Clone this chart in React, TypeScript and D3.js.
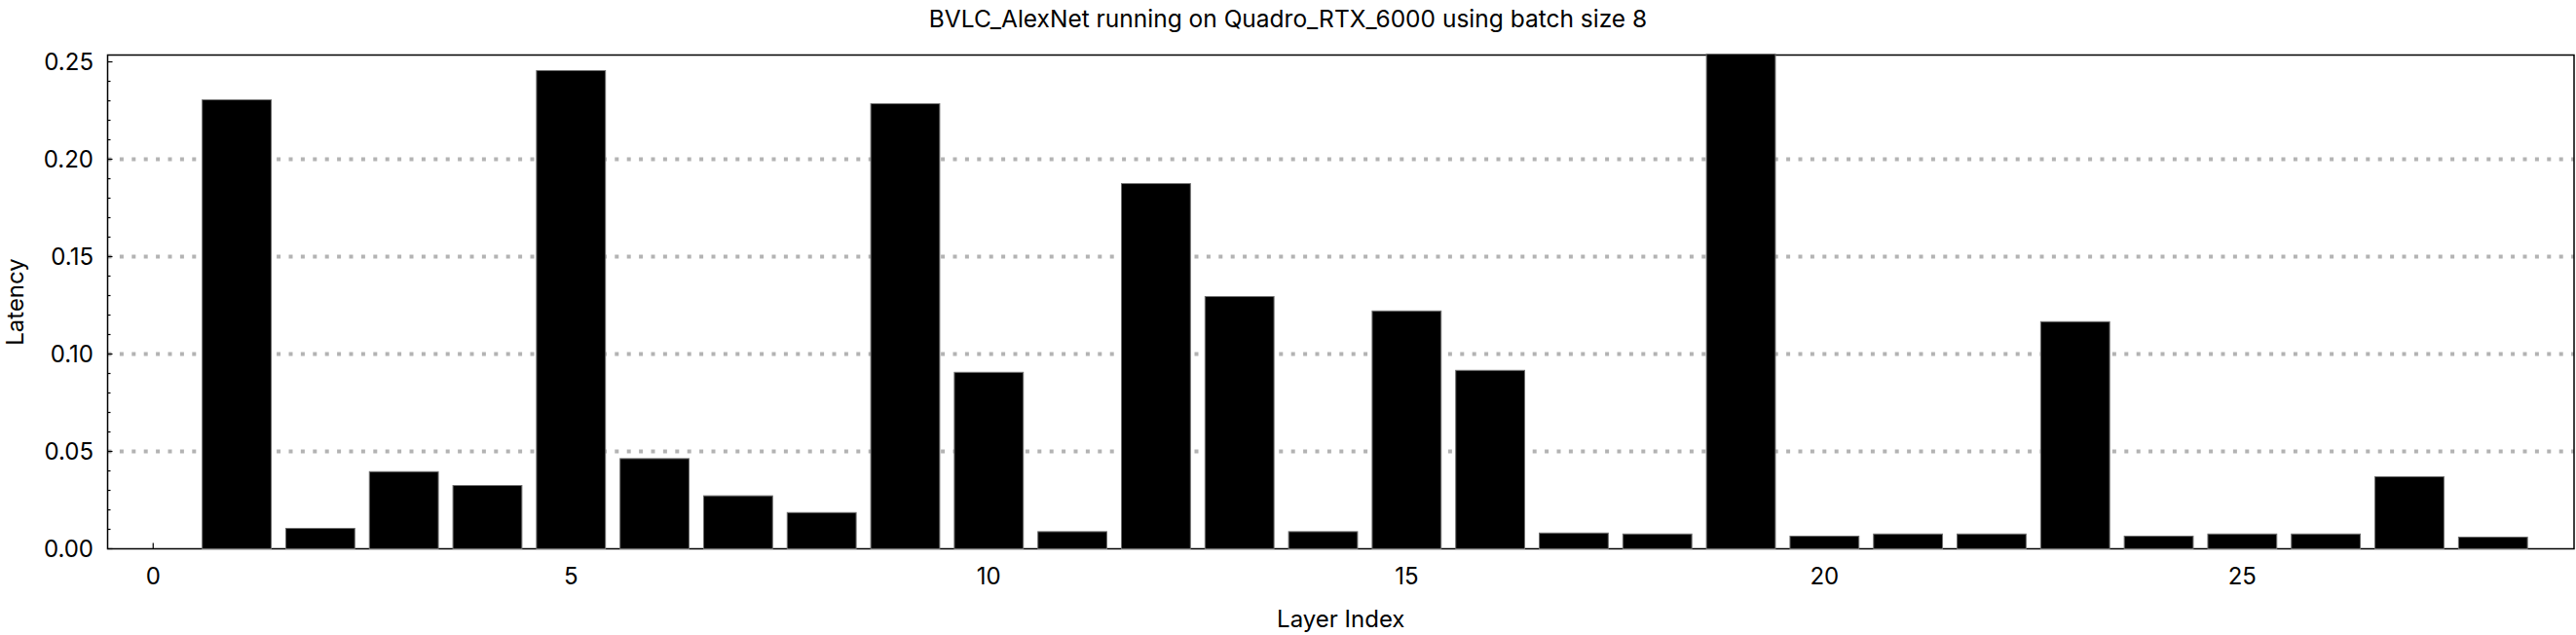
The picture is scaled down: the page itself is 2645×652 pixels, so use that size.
import React from 'react';
import * as d3 from 'd3';

const TITLE = 'BVLC_AlexNet running on Quadro_RTX_6000 using batch size 8';
const X_LABEL = 'Layer Index';
const Y_LABEL = 'Latency';

const layerIndex = [1, 2, 3, 4, 5, 6, 7, 8, 9, 10, 11, 12, 13, 14, 15, 16, 17, 18, 19, 20, 21, 22, 23, 24, 25, 26, 27, 28];
const latency = [
  0.2305, 0.0105, 0.0396, 0.0325, 0.2455, 0.0463, 0.0272, 0.0186, 0.2285, 0.0906,
  0.0088, 0.1875, 0.1295, 0.0088, 0.1221, 0.0916, 0.0081, 0.0076, 0.254, 0.0065,
  0.0076, 0.0076, 0.1166, 0.0065, 0.0076, 0.0076, 0.037, 0.006,
];
const xTicks = [0, 5, 10, 15, 20, 25];
const yTicks = [0, 0.05, 0.1, 0.15, 0.2, 0.25];
const gridValues = [0.05, 0.1, 0.15, 0.2];

const W = 2645;
const H = 652;
const FONT = 'Inter, "Noto Sans", sans-serif';

export default function App() {
  const left = 110.5, right = 2643, top = 56.5, bottom = 563.5;
  const x = d3.scaleLinear().domain([-0.545, 28.97]).range([left, right]);
  const y = d3.scaleLinear().domain([0, 0.2535]).range([bottom, top]);
  const barW = x(0.825) - x(0);
  const minor = d3.range(0, 26).map((i) => i / 100).filter((v) => Math.round(v * 100) % 5 !== 0);
  const data = layerIndex.map((k, i) => ({ k, v: latency[i] }));

  return (
    <svg width={W} height={H} style={{ position: 'absolute', left: 0, top: 0, background: '#fff' }} fontFamily={FONT}>
      <rect x={0} y={0} width={W} height={H} fill="#fff" />
      <text x={W / 2} y={28} textAnchor="middle" fontSize={24.5} fill="#000">{TITLE}</text>
      {gridValues.map((g) => (
        <line key={'g' + g} x1={left} x2={right} y1={y(g)} y2={y(g)} stroke="#b3b3b3" strokeWidth={4} strokeDasharray="4,8.4" />
      ))}
      <rect x={left} y={top} width={right - left} height={bottom - top} fill="none" stroke="#000" strokeWidth={1.5} />
      {yTicks.map((t) => (
        <g key={'yt' + t}>
          <line x1={left} x2={left + 5} y1={y(t)} y2={y(t)} stroke="#000" strokeWidth={1.2} />
          <text x={96} y={y(t)} dy="0.36em" textAnchor="end" fontSize={24} fill="#000">{d3.format('.2f')(t)}</text>
        </g>
      ))}
      {minor.map((t) => (
        <line key={'ym' + t} x1={left} x2={left + 3} y1={y(t)} y2={y(t)} stroke="#000" strokeWidth={1.2} />
      ))}
      {xTicks.map((t) => (
        <g key={'xt' + t}>
          <line x1={x(t)} x2={x(t)} y1={bottom} y2={bottom - 6} stroke="#000" strokeWidth={1.2} />
          <text x={x(t)} y={600} textAnchor="middle" fontSize={24} fill="#000">{t}</text>
        </g>
      ))}
      {data.map((d) => (
        <rect key={'b' + d.k} x={x(d.k) - barW / 2} y={y(d.v)} width={barW} height={y(0) - y(d.v)} fill="#000" stroke="#6e6e6e" strokeWidth={1} />
      ))}
      <text x={(left + right) / 2} y={644} textAnchor="middle" fontSize={24} fill="#000">{X_LABEL}</text>
      <text transform={`translate(24, ${(top + bottom) / 2}) rotate(-90)`} textAnchor="middle" fontSize={24} fill="#000">{Y_LABEL}</text>
    </svg>
  );
}
